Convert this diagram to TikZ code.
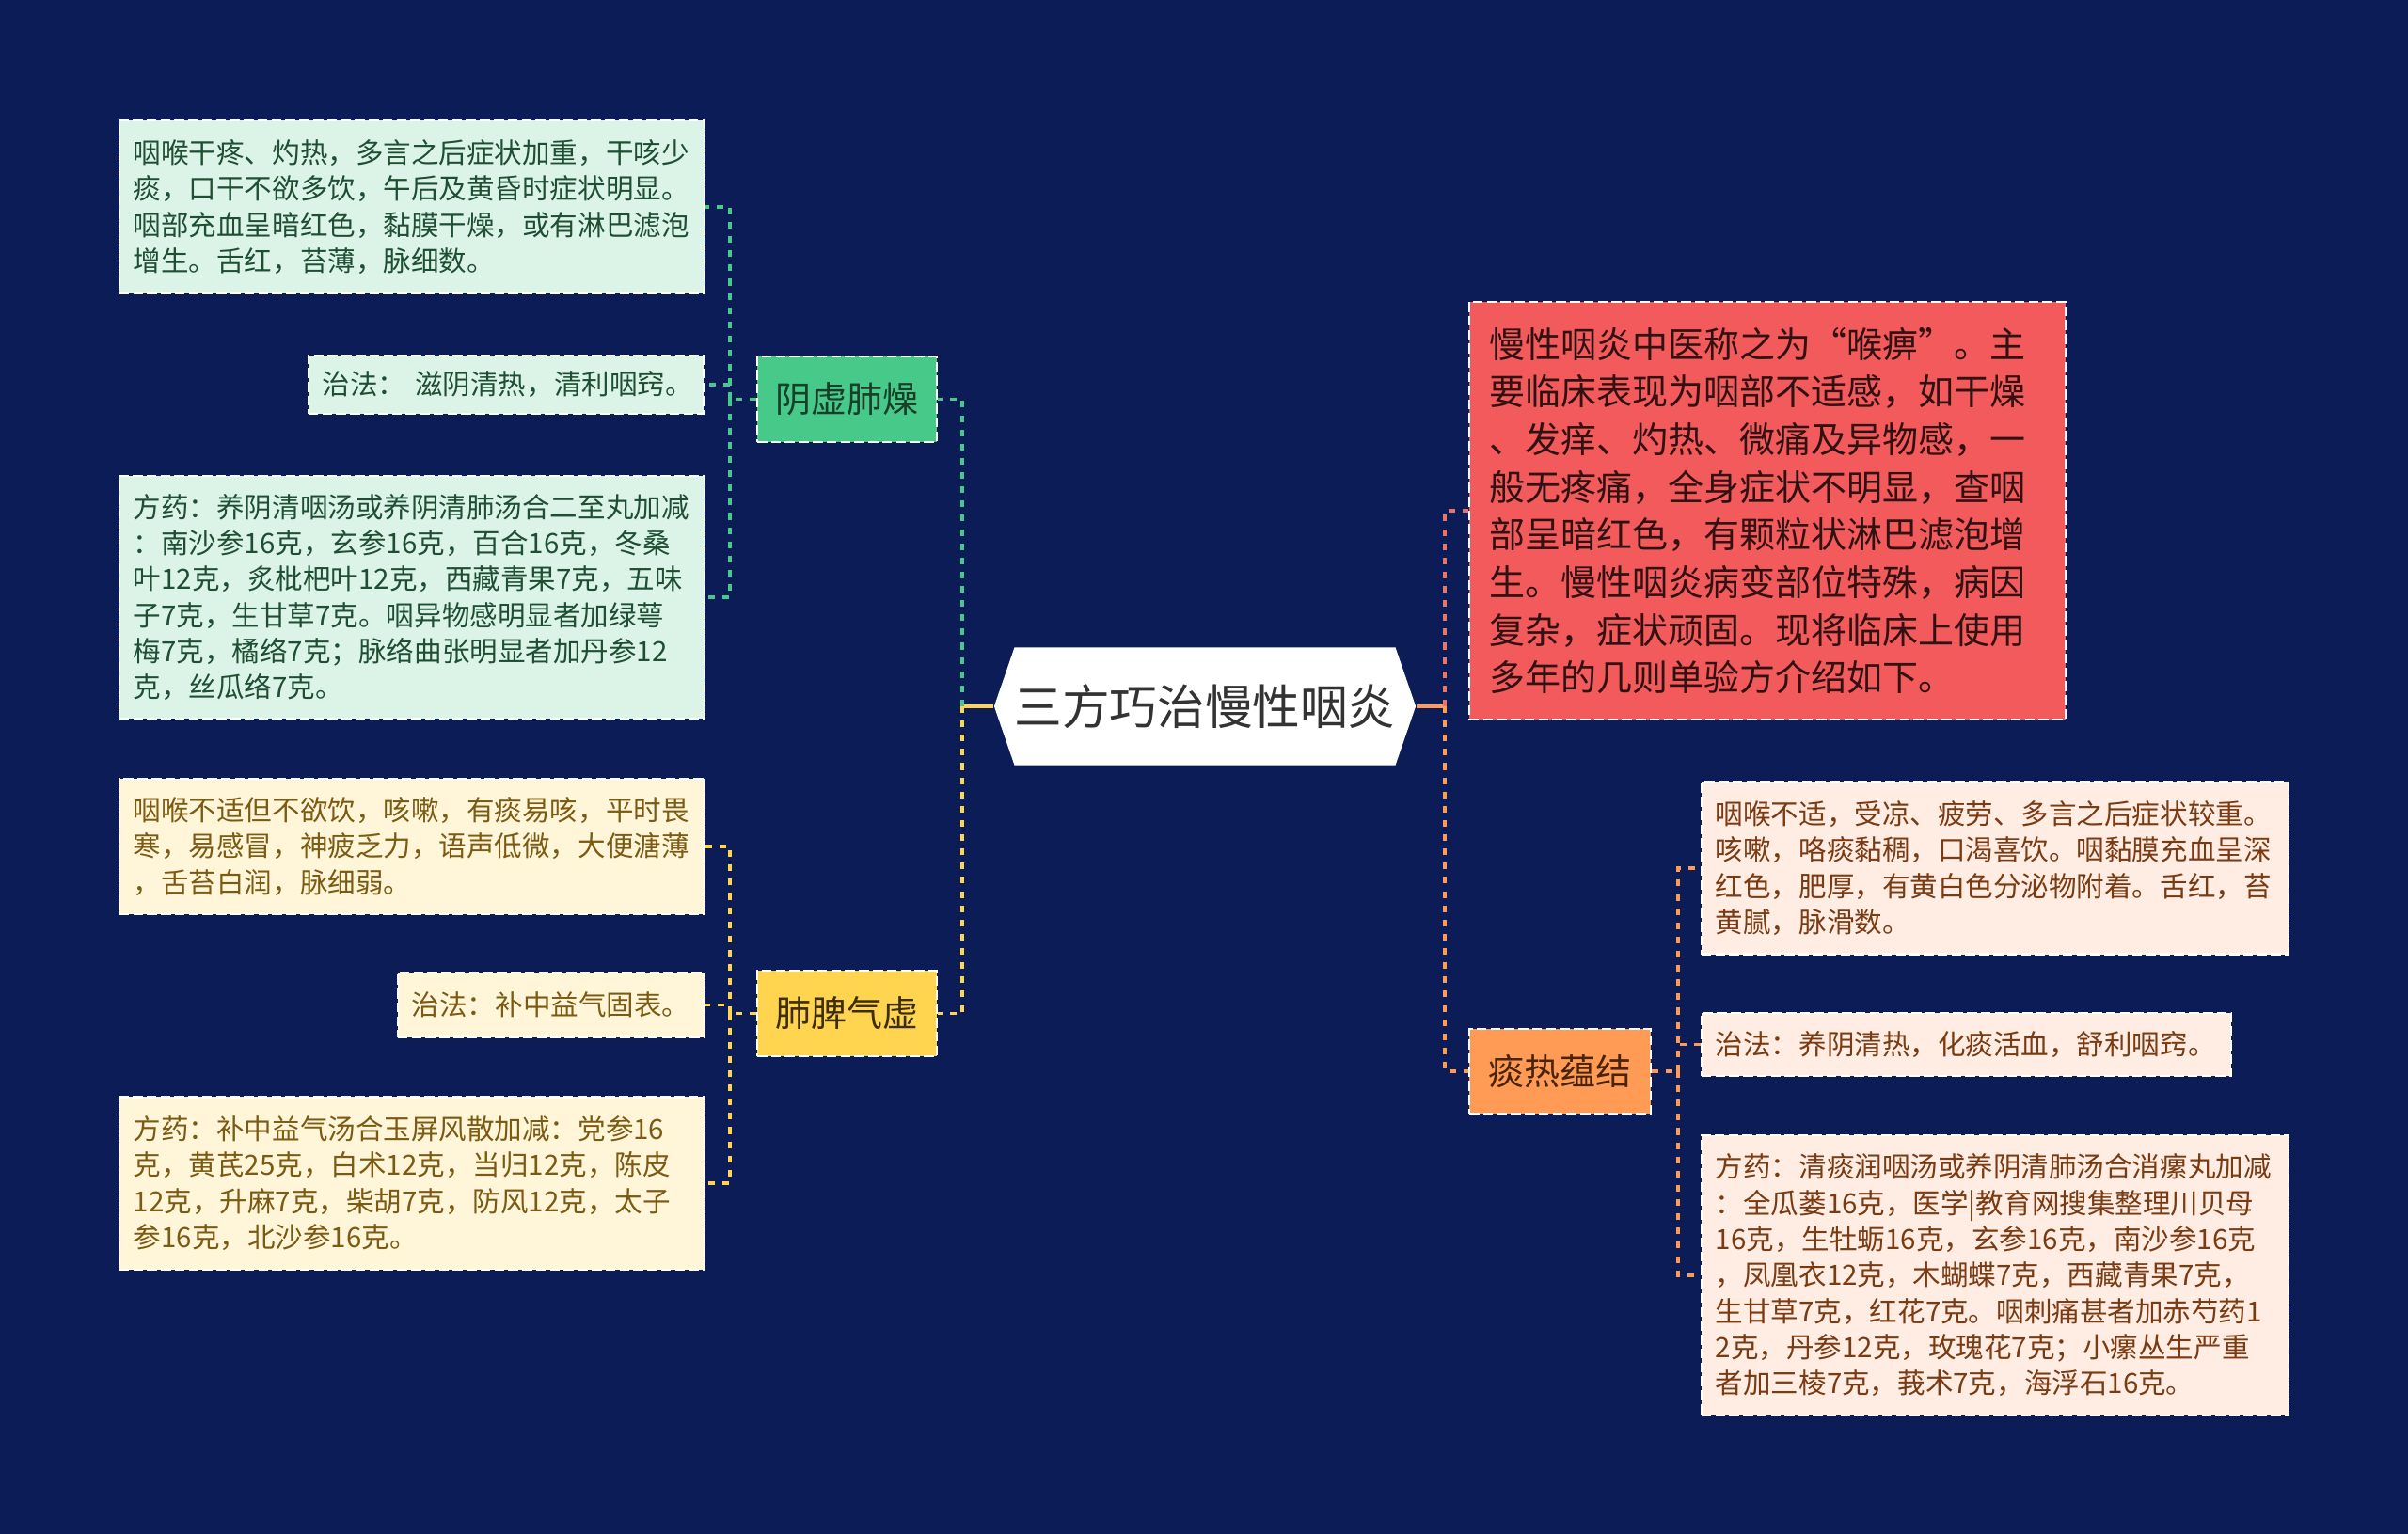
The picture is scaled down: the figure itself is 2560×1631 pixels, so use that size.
\documentclass[tikz,border=0pt]{standalone}
\usepackage{fontspec}
\setmainfont{Noto Sans CJK SC}
\usetikzlibrary{positioning,shapes.symbols}
\definecolor{bg}{HTML}{0B1C56}
\definecolor{mint}{HTML}{DCF4E8}
\definecolor{mintink}{HTML}{1F4F33}
\definecolor{green}{HTML}{47C98A}
\definecolor{cream}{HTML}{FFF6DA}
\definecolor{creamink}{HTML}{7D5A12}
\definecolor{gold}{HTML}{FFD54F}
\definecolor{coral}{HTML}{F25A5C}
\definecolor{coralline}{HTML}{E8756A}
\definecolor{peach}{HTML}{FFECE2}
\definecolor{peachink}{HTML}{7A3A12}
\definecolor{orange}{HTML}{FF9B55}
\definecolor{ink}{HTML}{333333}
\newcommand{\boxfont}{\fontsize{8.4}{10.9}\selectfont}

\begin{document}
\begin{tikzpicture}[
  x=0.01cm, y=-0.01cm,
  card/.style={align=left, inner xsep=1.5mm, inner ysep=0mm, font=\boxfont,
               draw=white!70, dash pattern=on 3pt off 1.2pt, line width=0.6pt},
  mintcard/.style={card, fill=mint, text=mintink},
  creamcard/.style={card, fill=cream, text=creamink},
  peachcard/.style={card, fill=peach, text=peachink},
  branch/.style={minimum width=1.91cm, minimum height=0.91cm, inner sep=0pt,
                 font=\fontsize{10.8}{13}\selectfont,
                 draw=white!70, dash pattern=on 3pt off 1.2pt, line width=0.6pt},
  link/.style={line width=1.1pt, dash pattern=on 2pt off 2.3pt},
  stub/.style={line width=1.1pt}
]

\fill[bg] (0,0) rectangle (2560,1631);

% centre
\node[signal, signal to=west and east, signal pointer angle=142, fill=white,
      minimum width=4.34cm, minimum height=1.25cm, inner sep=0pt, text=ink,
      font=\fontsize{14.4}{17}\selectfont] (title) at (1281,751) {三方巧治慢性咽炎};

% left branches
\node[branch, fill=green, text=mintink!80!black] (yinxu) at (900.5,424.5) {阴虚肺燥};
\node[branch, fill=gold, text=creamink!50!black] (feipi) at (900.5,1077.5) {肺脾气虚};

\node[mintcard, text width=5.92cm, minimum height=1.83cm] (yx-sym) at (438,220)
  {咽喉干疼、灼热，多言之后症状加重，干咳少\\
   痰，口干不欲多饮，午后及黄昏时症状明显。\\
   咽部充血呈暗红色，黏膜干燥，或有淋巴滤泡\\
   增生。舌红，苔薄，脉细数。};
\node[mintcard, text width=3.9cm, minimum height=0.62cm] (yx-fa) at (538,409)
  {治法：~滋阴清热，清利咽窍。};
\node[mintcard, text width=5.92cm, minimum height=2.57cm] (yx-yao) at (438,635)
  {方药：养阴清咽汤或养阴清肺汤合二至丸加减\\
   ：南沙参16克，玄参16克，百合16克，冬桑\\
   叶12克，炙枇杷叶12克，西藏青果7克，五味\\
   子7克，生甘草7克。咽异物感明显者加绿萼\\
   梅7克，橘络7克；脉络曲张明显者加丹参12\\
   克，丝瓜络7克。};

\node[creamcard, text width=5.92cm, minimum height=1.44cm] (fp-sym) at (438,900)
  {咽喉不适但不欲饮，咳嗽，有痰易咳，平时畏\\
   寒，易感冒，神疲乏力，语声低微，大便溏薄\\
   ，舌苔白润，脉细弱。};
\node[creamcard, text width=2.96cm, minimum height=0.69cm] (fp-fa) at (586,1068.5)
  {治法：补中益气固表。};
\node[creamcard, text width=5.92cm, minimum height=1.83cm] (fp-yao) at (438,1258)
  {方药：补中益气汤合玉屏风散加减：党参16\\
   克，黄芪25克，白术12克，当归12克，陈皮\\
   12克，升麻7克，柴胡7克，防风12克，太子\\
   参16克，北沙参16克。};

% right branches
\node[card, fill=coral, text=black!80!coral, text width=5.9cm, inner xsep=2.2mm,
      minimum height=4.44cm, font=\fontsize{10.8}{14.4}\selectfont] (intro) at (1879,543)
  {慢性咽炎中医称之为“喉痹”。主\\
   要临床表现为咽部不适感，如干燥\\
   、发痒、灼热、微痛及异物感，一\\
   般无疼痛，全身症状不明显，查咽\\
   部呈暗红色，有颗粒状淋巴滤泡增\\
   生。慢性咽炎病变部位特殊，病因\\
   复杂，症状顽固。现将临床上使用\\
   多年的几则单验方介绍如下。};
\node[branch, fill=orange, text=peachink!60!black, minimum width=1.93cm, minimum height=0.90cm]
  (tanre) at (1658.5,1139) {痰热蕴结};

\node[peachcard, text width=5.94cm, minimum height=1.83cm] (tr-sym) at (2121,923)
  {咽喉不适，受凉、疲劳、多言之后症状较重。\\
   咳嗽，咯痰黏稠，口渴喜饮。咽黏膜充血呈深\\
   红色，肥厚，有黄白色分泌物附着。舌红，苔\\
   黄腻，脉滑数。};
\node[peachcard, text width=5.33cm, minimum height=0.67cm] (tr-fa) at (2090.5,1110.5)
  {治法：养阴清热，化痰活血，舒利咽窍。};
\node[peachcard, text width=5.94cm, minimum height=2.97cm] (tr-yao) at (2121,1356)
  {方药：清痰润咽汤或养阴清肺汤合消瘰丸加减\\
   ：全瓜蒌16克，医学|教育网搜集整理川贝母\\
   16克，生牡蛎16克，玄参16克，南沙参16克\\
   ，凤凰衣12克，木蝴蝶7克，西藏青果7克，\\
   生甘草7克，红花7克。咽刺痛甚者加赤芍药1\\
   2克，丹参12克，玫瑰花7克；小瘰丛生严重\\
   者加三棱7克，莪术7克，海浮石16克。};

% connectors
\coordinate (ltrunk) at (1023,751);
\coordinate (rtrunk) at (1536,751);
\draw[stub, draw=gold] (title.west) -- (ltrunk);
\draw[link, draw=green] (ltrunk) |- (yinxu.east);
\draw[link, draw=gold] (ltrunk) |- (feipi.east);
\draw[stub, draw=orange] (title.east) -- (rtrunk);
\draw[link, draw=coralline] (rtrunk) |- (intro.west);
\draw[link, draw=orange] (rtrunk) |- (tanre.west);

\coordinate[left=2.8mm of yinxu.west] (yxjoin);
\draw[link, draw=green] (yinxu.west) -- (yxjoin);
\draw[link, draw=green] (yxjoin) |- (yx-sym.east);
\draw[link, draw=green] (yxjoin) |- (yx-fa.east);
\draw[link, draw=green] (yxjoin) |- (yx-yao.east);

\coordinate[left=2.8mm of feipi.west] (fpjoin);
\draw[link, draw=gold] (feipi.west) -- (fpjoin);
\draw[link, draw=gold] (fpjoin) |- (fp-sym.east);
\draw[link, draw=gold] (fpjoin) |- (fp-fa.east);
\draw[link, draw=gold] (fpjoin) |- (fp-yao.east);

\coordinate[right=2.8mm of tanre.east] (trjoin);
\draw[link, draw=orange] (tanre.east) -- (trjoin);
\draw[link, draw=orange] (trjoin) |- (tr-sym.west);
\draw[link, draw=orange] (trjoin) |- (tr-fa.west);
\draw[link, draw=orange] (trjoin) |- (tr-yao.west);

\end{tikzpicture}
\end{document}
